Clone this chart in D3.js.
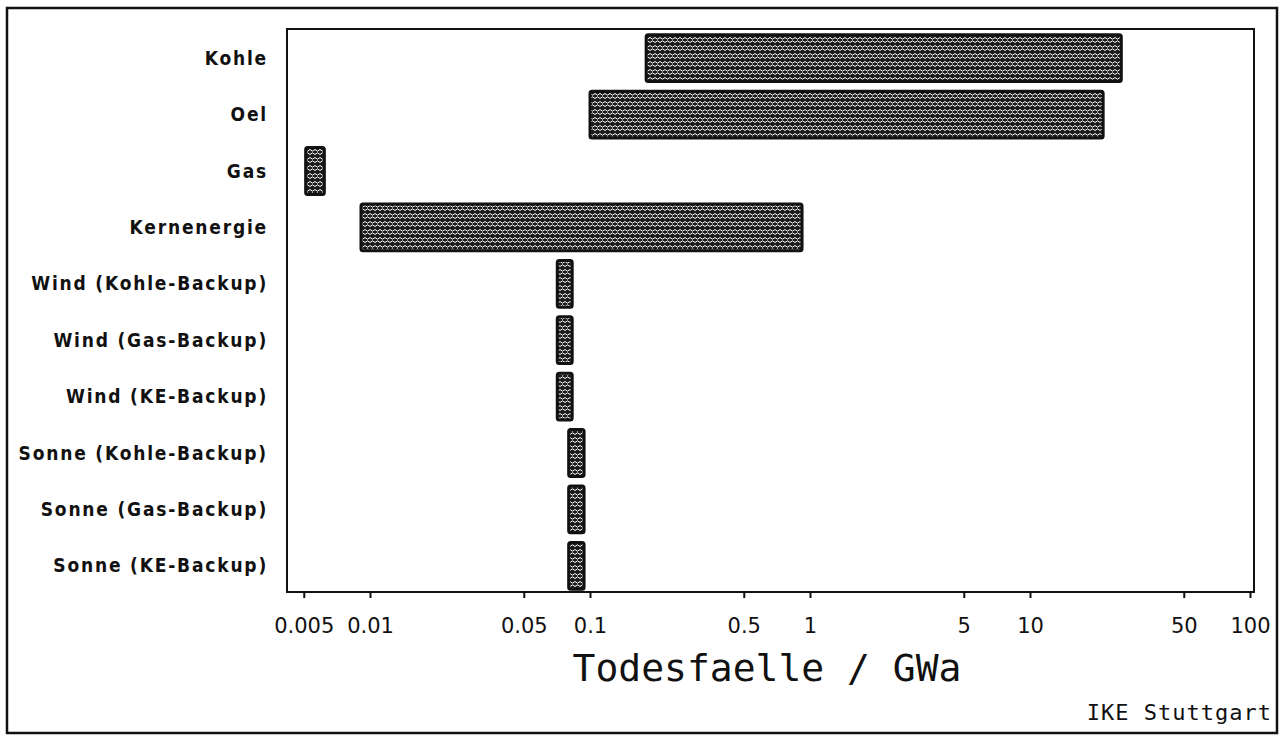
<!DOCTYPE html>
<html>
<head>
<meta charset="utf-8">
<script src="https://cdn.jsdelivr.net/npm/d3@7"></script>
<style>
  body { margin: 0; background: #fff; }
  svg { display: block; }
</style>
</head>
<body>
<div id="app"></div>
<script>
// categories, top to bottom
const categories = [
    "Kohle", "Oel", "Gas", "Kernenergie",
    "Wind (Kohle-Backup)", "Wind (Gas-Backup)", "Wind (KE-Backup)",
    "Sonne (Kohle-Backup)", "Sonne (Gas-Backup)", "Sonne (KE-Backup)"
];
// range of deaths per GWa (low / high)
const lowValues  = [0.18, 0.10, 0.0051, 0.0091, 0.071, 0.071, 0.071, 0.080, 0.080, 0.080];
const highValues = [26,   21.5, 0.0062, 0.92,   0.083, 0.083, 0.083, 0.094, 0.094, 0.094];
const tickValues = [0.005, 0.01, 0.05, 0.1, 0.5, 1, 5, 10, 50, 100];
const tickLabels = ["0.005", "0.01", "0.05", "0.1", "0.5", "1", "5", "10", "50", "100"];

const W = 1286, H = 735;
const plot = {left: 287, top: 29, right: 1254, bottom: 592};

const svg = d3.select("#app")
    .append("svg")
    .attr("width", W)
    .attr("height", H);

// dithered fill for the bars
const defs = svg.append("defs");
const pat = defs.append("pattern")
    .attr("id", "hatch")
    .attr("patternUnits", "userSpaceOnUse")
    .attr("width", 10)
    .attr("height", 8);
pat.append("rect").attr("width", 10).attr("height", 8).attr("fill", "#1c1c1c");
pat.append("path")
    .attr("d", "M0,2.5 L2.5,0.8 L5,2.5 L7.5,0.8 L10,2.5 M0,5.5 L2.5,7.2 L5,5.5 L7.5,7.2 L10,5.5")
    .attr("fill", "none")
    .attr("stroke", "#fff")
    .attr("stroke-width", 1);

// scales
const x = d3.scaleLog()
    .domain([0.01, 100])
    .range([370, 1250]);

const y = d3.scaleBand()
    .domain(categories)
    .range([30, 594])
    .paddingInner(0.17)
    .paddingOuter(0.085);

// outer frame
svg.append("rect")
    .attr("x", 7).attr("y", 8)
    .attr("width", 1270).attr("height", 725)
    .attr("fill", "none")
    .attr("stroke", "#111")
    .attr("stroke-width", 2.5);

// plot frame
svg.append("rect")
    .attr("x", plot.left).attr("y", plot.top)
    .attr("width", plot.right - plot.left).attr("height", plot.bottom - plot.top)
    .attr("fill", "none")
    .attr("stroke", "#111")
    .attr("stroke-width", 2);

// bars
svg.append("g")
    .selectAll("rect")
    .data(categories)
    .join("rect")
    .attr("x", (d, i) => x(lowValues[i]))
    .attr("y", d => y(d))
    .attr("width", (d, i) => x(highValues[i]) - x(lowValues[i]))
    .attr("height", y.bandwidth())
    .attr("rx", 2)
    .attr("fill", "url(#hatch)")
    .attr("stroke", "#111")
    .attr("stroke-width", 3);

// category labels
svg.append("g")
    .selectAll("text")
    .data(categories)
    .join("text")
    .attr("x", 268)
    .attr("y", d => y(d) + y.bandwidth() / 2)
    .attr("dy", "0.35em")
    .attr("text-anchor", "end")
    .attr("font-family", "'DejaVu Sans Condensed', 'DejaVu Sans', sans-serif")
    .attr("font-weight", "bold")
    .attr("font-size", 19)
    .attr("letter-spacing", 1.8)
    .attr("fill", "#111")
    .text(d => d);

// x axis
const xAxis = d3.axisBottom(x)
    .tickValues(tickValues)
    .tickFormat((d, i) => tickLabels[i])
    .tickSize(6)
    .tickPadding(20);

const gx = svg.append("g")
    .attr("transform", `translate(0,${plot.bottom})`)
    .call(xAxis);
gx.select(".domain").remove();
gx.selectAll(".tick line").attr("stroke", "#111").attr("stroke-width", 2);
gx.selectAll(".tick text")
    .attr("font-family", "'DejaVu Sans', sans-serif")
    .attr("font-size", 21)
    .attr("fill", "#111");

// axis title
svg.append("text")
    .attr("x", 767)
    .attr("y", 681)
    .attr("text-anchor", "middle")
    .attr("font-family", "'DejaVu Sans Mono', monospace")
    .attr("font-size", 38)
    .attr("fill", "#111")
    .text("Todesfaelle / GWa");

// source note
svg.append("text")
    .attr("x", 1272)
    .attr("y", 720)
    .attr("text-anchor", "end")
    .attr("font-family", "'DejaVu Sans Mono', monospace")
    .attr("font-size", 22)
    .attr("letter-spacing", 1)
    .attr("fill", "#111")
    .text("IKE Stuttgart");
</script>
</body>
</html>
